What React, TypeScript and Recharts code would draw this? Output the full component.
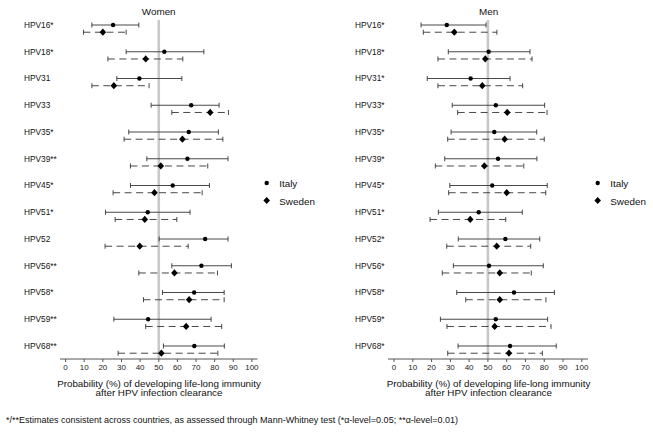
import React from 'react';
import { ScatterChart, Scatter, XAxis, YAxis, ErrorBar, ReferenceLine } from 'recharts';

const womenLabels = ['HPV16*', 'HPV18*', 'HPV31', 'HPV33', 'HPV35*', 'HPV39**', 'HPV45*', 'HPV51*', 'HPV52', 'HPV56**', 'HPV58*', 'HPV59**', 'HPV68**'];
const menLabels = ['HPV16*', 'HPV18*', 'HPV31*', 'HPV33*', 'HPV35*', 'HPV39*', 'HPV45*', 'HPV51*', 'HPV52*', 'HPV56*', 'HPV58*', 'HPV59*', 'HPV68*'];

const womenItalyEst = [25.5, 53, 39.6, 67.4, 66.1, 65.4, 57.5, 44.1, 74.9, 72.9, 69, 44.3, 69.1];
const womenItalyLow = [14.1, 32.5, 27.5, 45.9, 33.9, 43.6, 34.8, 21.4, 50.2, 57, 52, 25.9, 52.5];
const womenItalyHigh = [39.3, 74.2, 62.4, 82.4, 82, 87.2, 77.2, 66.8, 87.2, 89, 85.1, 78.1, 85.2];
const womenSwedenEst = [20, 43, 25.9, 77.6, 62.7, 51.1, 47.7, 42.5, 39.8, 58.4, 66.3, 64.7, 51.4];
const womenSwedenLow = [9.6, 22.7, 14.1, 57, 31.4, 34.8, 25.5, 26.6, 21.2, 39.3, 41.8, 43, 28.2];
const womenSwedenHigh = [32.5, 62.9, 44.8, 87.4, 84.4, 76.3, 73.3, 59.7, 65.8, 81.5, 85.1, 83.8, 81.7];

const menItalyEst = [28.1, 50.4, 40.8, 54.2, 53.4, 55.4, 52.3, 45.1, 59.3, 50.6, 63.9, 54.2, 61.8];
const menItalyLow = [14.4, 28.9, 17.7, 31, 30.4, 27, 29.7, 23.6, 34.2, 31.6, 33.4, 24.7, 34.1];
const menItalyHigh = [49, 72.4, 61.8, 80.2, 76, 76.1, 81.6, 68.3, 77.6, 79.5, 85.4, 81.8, 86.4];
const menSwedenEst = [32.1, 48.6, 47, 60.3, 58.9, 48.1, 60, 40.6, 54.7, 56.3, 56.3, 53.6, 61.2];
const menSwedenLow = [15.6, 23.4, 23.4, 33.9, 28.6, 22, 29.1, 19.2, 28.1, 25.7, 38.2, 28.2, 28.6];
const menSwedenHigh = [54.8, 73.5, 68.5, 81.5, 80, 69.1, 80.8, 59.5, 72.8, 73.1, 80.9, 83.6, 79];

const xTicks = [0, 10, 20, 30, 40, 50, 60, 70, 80, 90, 100];
const countries = ['Italy', 'Sweden'];
const footnote = '*/**Estimates consistent across countries, as assessed through Mann-Whitney test (*\u03b1-level=0.05; **\u03b1-level=0.01)';
const axisTitle1 = 'Probability (%) of developing life-long immunity';
const axisTitle2 = 'after HPV infection clearance';

const FONT = '"Liberation Sans", Arial, Helvetica, sans-serif';
const SWEDEN_OFFSET = 0.27;

function build(est: number[], low: number[], high: number[], offset: number) {
  return est.map((v, i) => ({ y: i + offset, x: v, err: [v - low[i], high[i] - v] }));
}

const DotShape = (p: any) => <circle cx={p.cx} cy={p.cy} r={2.2} fill="#000" />;
const DiamondShape = (p: any) => (
  <polygon
    points={`${p.cx},${p.cy - 3.6} ${p.cx + 3.3},${p.cy} ${p.cx},${p.cy + 3.6} ${p.cx - 3.3},${p.cy}`}
    fill="#000"
  />
);

function makeTick(labels: string[], labelX: number) {
  return (props: any) => (
    <text
      x={labelX}
      y={props.y}
      dy="0.36em"
      fontSize={8.3}
      fontFamily={FONT}
      fill="#111"
      stroke="none"
      style={{ fill: '#111' }}
      textAnchor="start"
    >
      {labels[props.payload.value]}
    </text>
  );
}

type PanelProps = {
  labels: string[];
  italy: any[];
  sweden: any[];
  yAxisWidth: number;
  rightMargin: number;
  domain: [number, number];
  labelX: number;
};

function Panel({ labels, italy, sweden, yAxisWidth, rightMargin, domain, labelX }: PanelProps) {
  const rowTicks = labels.map((_, i) => i);
  return (
    <ScatterChart width={330} height={432} margin={{ top: 20, right: rightMargin, bottom: 43, left: 0 }}>
      <XAxis
        type="number"
        dataKey="x"
        domain={domain}
        ticks={xTicks}
        interval={0}
        allowDataOverflow
        tickSize={3}
        tickMargin={2}
        height={30}
        stroke="#555"
        tick={{ fontSize: 8, fontFamily: FONT, fill: '#222' }}
      />
      <YAxis
        type="number"
        dataKey="y"
        domain={[-0.187, 12.486]}
        reversed
        allowDataOverflow
        ticks={rowTicks}
        interval={0}
        axisLine={false}
        tickLine={false}
        width={yAxisWidth}
        tick={makeTick(labels, labelX)}
      />
      <ReferenceLine x={50} stroke="#c8c8c8" strokeWidth={2.6} />
      <Scatter data={italy} isAnimationActive={false} shape={DotShape}>
        <ErrorBar dataKey="err" direction="x" width={2.5} stroke="#333" strokeWidth={0.9} isAnimationActive={false} />
      </Scatter>
      <Scatter data={sweden} isAnimationActive={false} shape={DiamondShape}>
        <ErrorBar
          dataKey="err"
          direction="x"
          width={2.5}
          stroke="#333"
          strokeWidth={0.9}
          strokeDasharray="7 4.5"
          isAnimationActive={false}
        />
      </Scatter>
    </ScatterChart>
  );
}

function Legend({ x, y }: { x: number; y: number }) {
  return (
    <g>
      <circle cx={x} cy={y} r={2.2} fill="#000" />
      <text x={x + 12.5} y={y + 4} fontSize={9.9} fontFamily={FONT} fill="#111">{countries[0]}</text>
      <polygon points={`${x},${y + 14} ${x + 3.3},${y + 17.5} ${x},${y + 21} ${x - 3.3},${y + 17.5}`} fill="#000" />
      <text x={x + 12.5} y={y + 21.5} fontSize={9.9} fontFamily={FONT} fill="#111">{countries[1]}</text>
    </g>
  );
}

export default function App() {
  const wItaly = build(womenItalyEst, womenItalyLow, womenItalyHigh, 0);
  const wSweden = build(womenSwedenEst, womenSwedenLow, womenSwedenHigh, SWEDEN_OFFSET);
  const mItaly = build(menItalyEst, menItalyLow, menItalyHigh, 0);
  const mSweden = build(menSwedenEst, menSwedenLow, menSwedenHigh, SWEDEN_OFFSET);
  return (
    <div style={{ position: 'absolute', left: 0, top: 0, width: 653, height: 432, background: '#fff', overflow: 'hidden' }}>
      <div style={{ position: 'absolute', left: 0, top: 0 }}>
        <Panel labels={womenLabels} italy={wItaly} sweden={wSweden} yAxisWidth={60} rightMargin={72.5} domain={[-3, 103]} labelX={24} />
      </div>
      <div style={{ position: 'absolute', left: 323, top: 0 }}>
        <Panel labels={menLabels} italy={mItaly} sweden={mSweden} yAxisWidth={65} rightMargin={65} domain={[-3.2, 103.3]} labelX={32} />
      </div>
      <svg width={653} height={432} style={{ position: 'absolute', left: 0, top: 0, pointerEvents: 'none' }}>
        <text x={158.7} y={14.8} textAnchor="middle" fontSize={9.9} fontFamily={FONT} fill="#111">Women</text>
        <text x={488.7} y={14.8} textAnchor="middle" fontSize={9.9} fontFamily={FONT} fill="#111">Men</text>
        <Legend x={266.7} y={183} />
        <Legend x={597.7} y={183} />
        <text x={159} y={386.5} textAnchor="middle" fontSize={9.8} fontFamily={FONT} fill="#111">{axisTitle1}</text>
        <text x={159} y={396} textAnchor="middle" fontSize={9.8} fontFamily={FONT} fill="#111">{axisTitle2}</text>
        <text x={488.5} y={386.5} textAnchor="middle" fontSize={9.8} fontFamily={FONT} fill="#111">{axisTitle1}</text>
        <text x={488.5} y={396} textAnchor="middle" fontSize={9.8} fontFamily={FONT} fill="#111">{axisTitle2}</text>
        <text x={6} y={423} fontSize={9} fontFamily={FONT} fill="#111">{footnote}</text>
      </svg>
    </div>
  );
}
